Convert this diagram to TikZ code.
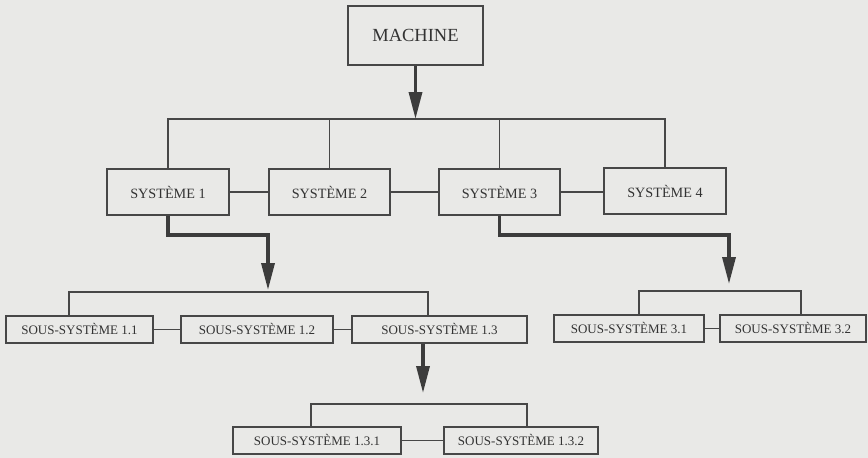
\documentclass[tikz,border=0pt]{standalone}
\usepackage{fontspec}
\setmainfont{Liberation Serif}
\usetikzlibrary{arrows.meta}
\definecolor{paper}{HTML}{E9E9E7}
\definecolor{ink}{HTML}{474747}
\definecolor{txt}{HTML}{333333}
\tikzset{
  box/.style={draw=ink, line width=1.5pt, fill=paper, inner sep=0pt, text=txt, font=\fontsize{14.2}{14.2}\selectfont},
  subbox/.style={box, font=\fontsize{13}{13}\selectfont},
  link/.style={draw=ink, line width=1.5pt},
  heavy/.style={draw=ink!85!black, line width=3.4pt, -{Triangle[length=27pt,width=13pt]}},
}
\begin{document}
\begin{tikzpicture}[x=1pt,y=-1pt]
  \fill[paper] (0,0) rectangle (868,458);
  \useasboundingbox (0,0) rectangle (868,458);

  % top level
  \node[box, minimum width=135pt, minimum height=59pt, font=\fontsize{18.5}{18.5}\selectfont] (machine) at (415.5,35.5) {MACHINE};

  % systems
  \node[box, minimum width=122pt, minimum height=46pt] (sys1) at (168,192) {SYSTÈME 1};
  \node[box, minimum width=121pt, minimum height=46pt] (sys2) at (329.5,192) {SYSTÈME 2};
  \node[box, minimum width=121pt, minimum height=46pt] (sys3) at (499.5,192) {SYSTÈME 3};
  \node[box, minimum width=122pt, minimum height=46pt] (sys4) at (665,191) {SYSTÈME 4};

  % sub-systems of 1
  \node[subbox, minimum width=147pt, minimum height=27pt] (ss11) at (79.5,329.5) {SOUS-SYSTÈME 1.1};
  \node[subbox, minimum width=152pt, minimum height=27pt] (ss12) at (257,329.5) {SOUS-SYSTÈME 1.2};
  \node[subbox, minimum width=175pt, minimum height=27pt] (ss13) at (439.5,329.5) {SOUS-SYSTÈME 1.3};

  % sub-systems of 3
  \node[subbox, minimum width=150pt, minimum height=27pt] (ss31) at (629,328.5) {SOUS-SYSTÈME 3.1};
  \node[subbox, minimum width=146pt, minimum height=27pt] (ss32) at (793,328.5) {SOUS-SYSTÈME 3.2};

  % sub-systems of 1.3
  \node[subbox, minimum width=168pt, minimum height=27pt] (ss131) at (317,440.5) {SOUS-SYSTÈME 1.3.1};
  \node[subbox, minimum width=154pt, minimum height=27pt] (ss132) at (521,440.5) {SOUS-SYSTÈME 1.3.2};

  % bus coordinates
  \coordinate (bus0) at (415.5,119);
  \coordinate (bus1l) at (69,292);
  \coordinate (bus1r) at (428,292);
  \coordinate (bus3l) at (639,291);
  \coordinate (bus3r) at (801,291);
  \coordinate (bus13l) at (311,404);
  \coordinate (bus13r) at (527,404);
  \coordinate (turn1) at (268,235);
  \coordinate (tip1) at (268,290);
  \coordinate (turn3) at (729,235);
  \coordinate (tip3) at (729,284);
  \coordinate (tip13) at (423,393);

  % first bus
  \draw[link] (sys1.north) |- (bus0) -| (sys4.north);
  \draw[link] (sys2.north) -- (sys2.north |- bus0);
  \draw[link] (sys3.north) -- (sys3.north |- bus0);
  \draw[link] (sys1.east) -- (sys2.west);
  \draw[link] (sys2.east) -- (sys3.west);
  \draw[link] (sys3.east) -- (sys4.west |- sys3.east);

  % second bus (system 1)
  \draw[link] (bus1l |- ss11.north) -- (bus1l) -- (bus1r) -- (bus1r |- ss13.north);
  \draw[link] (ss11.east) -- (ss12.west);
  \draw[link] (ss12.east) -- (ss13.west);

  % second bus (system 3)
  \draw[link] (bus3l |- ss31.north) -- (bus3l) -- (bus3r) -- (bus3r |- ss32.north);
  \draw[link] (ss31.east) -- (ss32.west);

  % third bus (sub-system 1.3)
  \draw[link] (bus13l |- ss131.north) -- (bus13l) -- (bus13r) -- (bus13r |- ss132.north);
  \draw[link] (ss131.east) -- (ss132.west);

  % decomposition arrows
  \draw[heavy] (machine.south) -- (bus0);
  \draw[heavy] (sys1.south) |- (turn1) -- (tip1);
  \draw[heavy] (sys3.south) |- (turn3) -- (tip3);
  \draw[heavy] (ss13.south -| tip13) -- (tip13);
\end{tikzpicture}
\end{document}
